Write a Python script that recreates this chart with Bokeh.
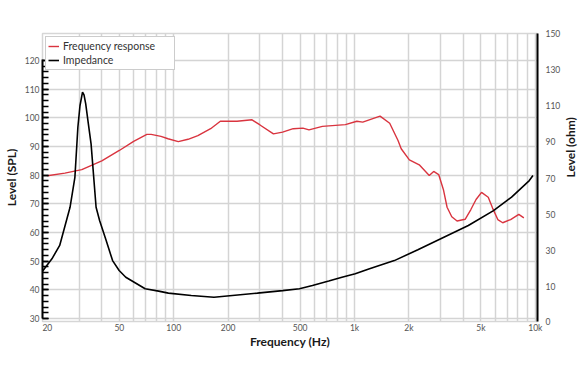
import math
from bokeh.plotting import figure
from bokeh.models import (Range1d, LinearAxis, FixedTicker, SingleIntervalTicker,
                          Legend, LegendItem)
from bokeh.embed import file_html
from bokeh.resources import INLINE

# ---- data ----
fr_freq = [20, 25, 31, 40, 50, 60, 71, 75, 85, 93, 106, 120, 136, 160, 181, 224, 271,
           300, 356, 400, 458, 518, 560, 664, 890, 1030, 1110, 1384, 1565, 1740, 1812,
           2010, 2280, 2590, 2740, 2920, 3100, 3250, 3450, 3690, 4090, 4400, 4700, 5040,
           5490, 5800, 6200, 6600, 7300, 8100, 8640]
fr_spl = [79.8, 80.7, 81.9, 85.0, 88.6, 91.8, 94.2, 94.2, 93.5, 92.7, 91.7, 92.5, 93.8,
          96.2, 98.8, 98.8, 99.3, 97.5, 94.4, 95.0, 96.2, 96.4, 95.8, 97.0, 97.6, 98.8,
          98.5, 100.6, 98.1, 92.1, 89.2, 85.3, 83.6, 79.9, 81.3, 80.2, 75.0, 68.8, 65.5,
          64.0, 64.6, 68.0, 71.5, 74.0, 72.3, 68.5, 64.5, 63.4, 64.5, 66.3, 65.1]

imp_freq = [18.8, 21.2, 23.4, 26.7, 28.4, 29.5, 30.3, 31.3, 31.9, 32.6, 33.5, 34.9, 37.2,
            38.9, 42.3, 45.9, 49.9, 54.3, 69.5, 82.5, 93.4, 125, 167, 290, 400, 496, 585,
            720, 852, 1009, 1210, 1660, 2240, 3120, 4260, 5870, 7390, 9260, 9700]
imp_ohm = [18.4, 25.3, 32.7, 53.8, 70.4, 98.1, 110.0, 117.5, 116.0, 111.0, 102.0, 88.9,
           53.8, 46.5, 35.4, 24.3, 18.8, 15.1, 8.7, 7.4, 6.3, 5.0, 4.0, 6.3, 7.7, 8.7, 10.5,
           13.0, 15.1, 17.0, 19.8, 24.3, 30.3, 37.2, 43.7, 52.0, 59.4, 68.6, 71.4]

x_ticks = [20, 50, 100, 200, 500, 1000, 2000, 5000, 10000]
x_tick_labels = ["20", "50", "100", "200", "500", "1k", "2k", "5k", "10k"]
x_grid = [30, 40, 50, 60, 70, 80, 90, 100, 200, 300, 400, 500, 600, 700, 800, 900,
          1000, 2000, 3000, 4000, 5000, 6000, 7000, 8000, 9000, 10000]
left_ticks = [30, 40, 50, 60, 70, 80, 90, 100, 110, 120]
right_ticks = [-9.3, 10, 30, 50, 70, 90, 110, 130, 149.9]
right_tick_labels = ["0", "10", "30", "50", "70", "90", "110", "130", "150"]

FONT = "Lato"
RED = "#d9343f"

p = figure(width=588, height=372, x_axis_type="log",
           x_range=Range1d(18.8, 10280), y_range=Range1d(28.95, 129.4),
           output_backend="svg", toolbar_location=None,
           min_border_left=41, min_border_right=41, min_border_top=33,
           min_border_bottom=51)
p.extra_y_ranges = {"ohm": Range1d(-9.4, 150)}

p.outline_line_color = "#d6d6d6"
p.outline_line_width = 1.5

# grids
p.xgrid.ticker = FixedTicker(ticks=x_grid)
p.xgrid.grid_line_color = "#d4d4d4"
p.xgrid.grid_line_width = 1.5
p.ygrid.ticker = FixedTicker(ticks=left_ticks)
p.ygrid.grid_line_color = "#d4d4d4"
p.ygrid.grid_line_width = 1.5

# bottom axis
xa = p.xaxis[0]
xa.ticker = FixedTicker(ticks=x_ticks)
xa.major_label_overrides = {t: l for t, l in zip(x_ticks, x_tick_labels)}
xa.axis_line_color = None
xa.major_tick_line_color = None
xa.minor_tick_line_color = None
xa.major_tick_in = 0
xa.major_tick_out = 0
xa.minor_tick_in = 0
xa.minor_tick_out = 0
xa.major_label_text_font = FONT
xa.major_label_text_font_size = "8.5px"
xa.major_label_text_color = "#555555"
xa.major_label_standoff = 1
xa.axis_label = "Frequency (Hz)"
xa.axis_label_text_font = FONT
xa.axis_label_text_font_style = "bold"
xa.axis_label_text_font_size = "12px"
xa.axis_label_text_color = "#1a1a1a"
xa.axis_label_standoff = -2

# left axis
ya = p.yaxis[0]
ya.ticker = SingleIntervalTicker(interval=10, num_minor_ticks=5)
ya.bounds = (30, 120.5)
ya.axis_line_color = "black"
ya.axis_line_width = 2
ya.major_tick_in = 6
ya.major_tick_out = 0
ya.minor_tick_in = 6
ya.minor_tick_out = 0
ya.major_tick_line_color = "black"
ya.minor_tick_line_color = "black"
ya.major_tick_line_width = 1.5
ya.minor_tick_line_width = 1.5
ya.major_label_text_font = FONT
ya.major_label_text_font_size = "8.5px"
ya.major_label_text_color = "#555555"
ya.major_label_standoff = 3
ya.axis_label = "Level (SPL)"
ya.axis_label_text_font = FONT
ya.axis_label_text_font_style = "bold"
ya.axis_label_text_font_size = "12px"
ya.axis_label_text_color = "#1a1a1a"
ya.axis_label_standoff = 3

# right axis
ra = LinearAxis(y_range_name="ohm", ticker=FixedTicker(ticks=right_ticks))
ra.major_label_overrides = {t: l for t, l in zip(right_ticks, right_tick_labels)}
ra.axis_line_color = "black"
ra.axis_line_width = 2
ra.major_tick_line_color = None
ra.minor_tick_line_color = None
ra.major_tick_in = 0
ra.major_tick_out = 0
ra.major_label_text_font = FONT
ra.major_label_text_font_size = "8.5px"
ra.major_label_text_color = "#555555"
ra.major_label_standoff = 8
ra.axis_label = "Level (ohm)"
ra.axis_label_text_font = FONT
ra.axis_label_text_font_style = "bold"
ra.axis_label_text_font_size = "12px"
ra.axis_label_text_color = "#1a1a1a"
ra.axis_label_standoff = 7
try:
    ra.axis_label_orientation = math.pi / 2
except Exception:
    pass
p.add_layout(ra, "right")

# curves
r_fr = p.line(fr_freq, fr_spl, line_color=RED, line_width=1.4)
r_imp = p.line(imp_freq, imp_ohm, y_range_name="ohm", line_color="black", line_width=1.6)

legend = Legend(items=[LegendItem(label="Frequency response", renderers=[r_fr]),
                       LegendItem(label="Impedance", renderers=[r_imp])],
                location="top_left")
legend.border_line_color = "#9a9a9a"
legend.border_line_width = 1
legend.background_fill_color = "white"
legend.background_fill_alpha = 1
legend.label_text_font = FONT
legend.label_text_font_size = "10.5px"
legend.label_text_color = "#333333"
legend.glyph_width = 11
legend.glyph_height = 14
legend.label_height = 14
legend.label_width = 109
legend.label_standoff = 4
legend.spacing = 0
legend.padding = 2
legend.margin = 3
p.add_layout(legend, "center")

open("out.html", "w").write(file_html(p, INLINE))
